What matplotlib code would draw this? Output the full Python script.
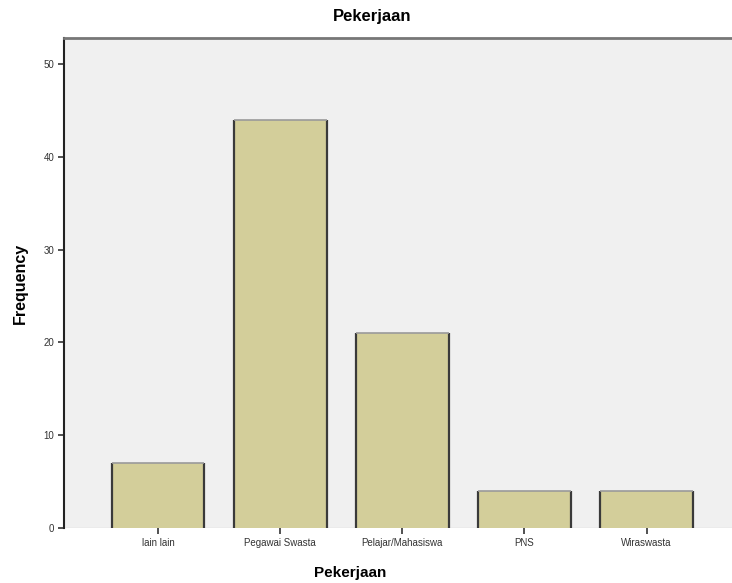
import numpy as np
import matplotlib.pyplot as plt

plt.rcParams['font.family'] = ['Liberation Sans', 'DejaVu Sans']

# data
categories = ['lain lain', 'Pegawai Swasta', 'Pelajar/Mahasiswa', 'PNS', 'Wiraswasta']
counts = [7, 44, 21, 4, 4]
yticks = [0, 10, 20, 30, 40, 50]

fig = plt.figure(figsize=(7.32, 5.83), dpi=100)
ax = fig.add_axes([64/732, 55/583, 1 - 64/732, 490/583])
ax.set_facecolor('#f0f0f0')

x = np.arange(len(categories))
w = 0.76
ax.bar(x, counts, width=w, color='#d3ce9a', edgecolor='none', zorder=2)
# dark sides, lighter top edge like the SPSS look
ax.vlines(x - w/2, 0, counts, color='#3a3a3a', lw=1.6, zorder=3)
ax.vlines(x + w/2, 0, counts, color='#3a3a3a', lw=1.6, zorder=3)
ax.hlines(counts, x - w/2, x + w/2, color='#9a9a9a', lw=1.2, zorder=3)

ax.set_xlim(-0.77, 4.70)
ax.set_ylim(0, 52.8)
ax.set_xticks(x)
ax.set_xticklabels(categories, fontsize=7, color='#333333')
ax.set_yticks(yticks)
ax.set_yticklabels([str(v) for v in yticks], fontsize=7, color='#333333')
ax.tick_params(axis='both', length=4, width=1.2, color='#333333', pad=3)

for s in ['right', 'bottom']:
    ax.spines[s].set_visible(False)
ax.spines['left'].set_linewidth(1.5)
ax.spines['left'].set_color('#222222')
ax.spines['top'].set_linewidth(2)
ax.spines['top'].set_color('#777777')
ax.axhline(0, color='#d8d8d8', lw=1, zorder=1)

fig.text(372/732, 1 - 16/583, 'Pekerjaan', ha='center', va='center', fontsize=12, fontweight='bold')
fig.text(350/732, 1 - 573/583, 'Pekerjaan', ha='center', va='center', fontsize=11, fontweight='bold')
fig.text(20/732, 1 - 283/583, 'Frequency', ha='center', va='center', rotation=90, fontsize=11.5, fontweight='bold')

fig.savefig('out.png', dpi=100)
